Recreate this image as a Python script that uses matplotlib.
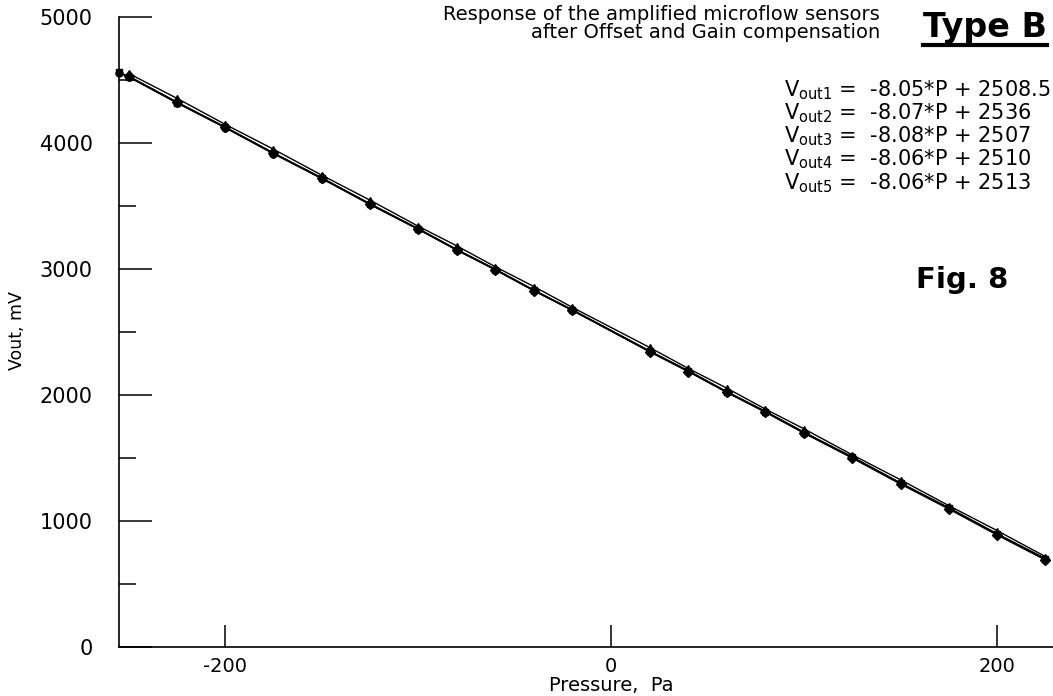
import matplotlib
matplotlib.use("Agg")
import matplotlib.pyplot as plt
from matplotlib.lines import Line2D

# pressure points, Pa
p_long = [-255, -250, -225, -200, -175, -150, -125, -100, -80, -60, -40, -20,
          20, 40, 60, 80, 100, 125, 150, 175, 200, 225]
p_short = p_long[1:]

# sensor outputs, mV
vout1 = [4558, 4524, 4318, 4121, 3915, 3718, 3512, 3316, 3150, 2994, 2828, 2672,
         2345, 2188, 2023, 1866, 1700, 1505, 1299, 1102, 896, 699]
vout2 = [4552, 4355, 4148, 3951, 3745, 3547, 3340, 3184, 3018, 2861, 2695,
         2377, 2211, 2054, 1888, 1731, 1525, 1327, 1122, 924, 718]
vout3 = [4529, 4323, 4125, 3919, 3721, 3515, 3317, 3151, 2994, 2828, 2671,
         2343, 2186, 2020, 1863, 1697, 1499, 1293, 1095, 889, 691]
vout4 = [4562, 4527, 4321, 4124, 3918, 3721, 3516, 3318, 3153, 2996, 2830, 2673,
         2347, 2190, 2024, 1867, 1702, 1505, 1299, 1102, 896, 699]
vout5 = [4530, 4325, 4127, 3922, 3724, 3519, 3321, 3156, 2999, 2833, 2676,
         2350, 2193, 2027, 1870, 1705, 1508, 1302, 1105, 899, 702]

equations = [r"V$_{\mathrm{out1}}$ =  -8.05*P + 2508.5",
             r"V$_{\mathrm{out2}}$ =  -8.07*P + 2536",
             r"V$_{\mathrm{out3}}$ =  -8.08*P + 2507",
             r"V$_{\mathrm{out4}}$ =  -8.06*P + 2510",
             r"V$_{\mathrm{out5}}$ =  -8.06*P + 2513"]

plt.rcParams['font.family'] = ['DejaVu Sans']
plt.rcParams['axes.unicode_minus'] = False
W, H = 1053, 696
fig = plt.figure(figsize=(W/100, H/100), dpi=100)
ax = fig.add_axes([119/W, 49/H, (W-119)/W, 630/H])

series = [(p_long, vout1, 'o'), (p_short, vout2, '^'), (p_short, vout3, 'D'),
          (p_long, vout4, 's'), (p_short, vout5, 'p')]
for xs, ys, m in series:
    ax.plot(xs, ys, color='black', lw=1.0, marker=m, ms=5, mfc='black', mec='black',
            clip_on=False)

ax.set_xlim(-255, 229)
ax.set_ylim(0, 5000)
ax.set_xticks([-200, 0, 200])
ax.set_yticks([0, 1000, 2000, 3000, 4000, 5000])
ax.set_yticks([500, 1500, 2500, 3500, 4500], minor=True)
ax.tick_params(axis='y', which='major', direction='in', length=24, width=1.1,
               labelsize=15, pad=19)
ax.tick_params(axis='y', which='minor', direction='in', length=12, width=1.1)
ax.tick_params(axis='x', which='major', direction='in', length=16, width=1.1,
               labelsize=14, pad=7)
for s in ['top', 'right']:
    ax.spines[s].set_visible(False)
for s in ['left', 'bottom']:
    ax.spines[s].set_linewidth(1.2)

ax.set_xlabel("Pressure,  Pa", fontsize=14)
ax.xaxis.set_label_coords(255/484, -0.046, transform=ax.transAxes)
fig.text(17/W, 1 - 331/H, "Vout, mV", rotation=90, fontsize=12.5,
         ha='center', va='center')

fig.text(880/W, 1 - 5/H, "Response of the amplified microflow sensors\n"
         "after Offset and Gain compensation", ha='right', va='top',
         multialignment='right', fontsize=14, linespacing=0.95)

tb = fig.text(1047/W, 1 - 37/H, "Type B", ha='right', va='baseline',
              fontsize=24, fontweight='bold')
fig.canvas.draw()
bb = tb.get_window_extent()
fig.add_artist(Line2D([bb.x0/W, bb.x1/W], [(bb.y0 - 1)/H, (bb.y0 - 1)/H],
                      transform=fig.transFigure, color='black', lw=3))

fig.text(1051/W, 1 - 78/H, "\n".join(equations), ha='right', va='top',
         multialignment='left', fontsize=15, linespacing=0.98)

fig.text(1008/W, 1 - 280/H, "Fig. 8", ha='right', va='center', fontsize=21,
         fontweight='bold')

fig.savefig("out.png", dpi=100)
